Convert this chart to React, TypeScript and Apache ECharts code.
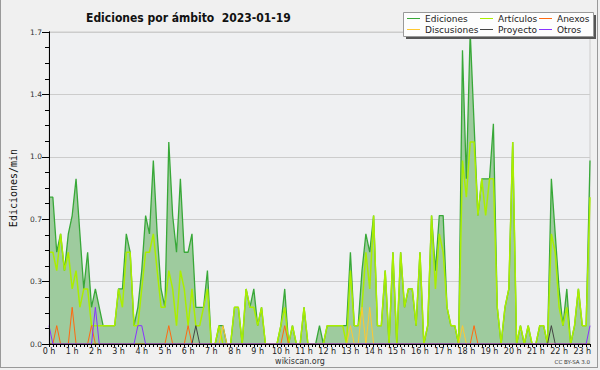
import React, { useEffect, useRef } from 'react';
import * as echarts from 'echarts';

const FONT = 'DejaVu Sans';
const N = 141; // 10-minute slots from 0:00 to 23:20

const hourLabels = [
  '0 h', '1 h', '2 h', '3 h', '4 h', '5 h', '6 h', '7 h', '8 h', '9 h', '10 h', '11 h',
  '12 h', '13 h', '14 h', '15 h', '16 h', '17 h', '18 h', '19 h', '20 h', '21 h', '22 h', '23 h',
];

const ediciones = [
  0.8, 0.8, 0.5, 0.6, 0.4, 0.6, 0.7, 0.9, 0.6, 0.3,
  0.5, 0.2, 0.3, 0.2, 0.1, 0.1, 0.1, 0.1, 0.3, 0.3,
  0.6, 0.5, 0.1, 0.2, 0.4, 0.7, 0.6, 1.0, 0.6, 0.3,
  0.2, 1.1, 0.7, 0.5, 0.9, 0.5, 0.5, 0.6, 0.2, 0.2,
  0.2, 0.4, 0, 0, 0.1, 0.1, 0, 0, 0.2, 0.2,
  0, 0.3, 0.2, 0.3, 0.1, 0.2, 0, 0, 0, 0,
  0.1, 0.3, 0, 0.1, 0, 0, 0.2, 0, 0, 0,
  0.1, 0, 0.1, 0.1, 0.1, 0.1, 0.1, 0.1, 0.5, 0.1,
  0.1, 0.4, 0.6, 0.5, 0.7, 0.1, 0.1, 0.4, 0, 0.5,
  0, 0.5, 0.2, 0.3, 0.3, 0.1, 0.5, 0, 0.1, 0.7,
  0.4, 0.7, 0.7, 0.2, 0.1, 0.1, 0, 1.6, 0.9, 1.7,
  1.2, 0.7, 0.9, 0.9, 0.9, 1.2, 0.2, 0, 0.2, 0.3,
  1.1, 0, 0.1, 0, 0.1, 0, 0, 0.1, 0.1, 0,
  0.9, 0.6, 0.3, 0.1, 0.3, 0, 0.1, 0.3, 0.1, 0.1,
  1.0,
];

const articulos = [
  0.5, 0.5, 0.4, 0.6, 0.4, 0.5, 0.3, 0.4, 0.2, 0.3,
  0.3, 0.1, 0.1, 0.1, 0.1, 0.1, 0.1, 0.1, 0.3, 0.2,
  0.5, 0.5, 0.1, 0.1, 0.3, 0.5, 0.5, 0.6, 0.4, 0.2,
  0.2, 0.4, 0.3, 0.1, 0.4, 0.3, 0.1, 0.3, 0.1, 0.1,
  0.2, 0.3, 0, 0, 0.1, 0, 0, 0, 0.2, 0.2,
  0, 0.3, 0.2, 0.2, 0.1, 0.2, 0, 0, 0, 0,
  0.1, 0.2, 0, 0.1, 0, 0, 0.2, 0, 0, 0,
  0, 0, 0.1, 0.1, 0.1, 0.1, 0.1, 0, 0.4, 0.1,
  0.1, 0.2, 0.5, 0.3, 0.7, 0.1, 0.1, 0.4, 0, 0.5,
  0, 0.5, 0.2, 0.3, 0.3, 0.1, 0.5, 0, 0.1, 0.7,
  0.3, 0.6, 0.5, 0.2, 0.1, 0.1, 0, 1.0, 0.8, 1.1,
  1.1, 0.7, 0.9, 0.7, 0.9, 0.9, 0.2, 0, 0.2, 0.3,
  1.1, 0, 0.1, 0, 0.1, 0, 0, 0.1, 0.1, 0,
  0.6, 0.5, 0.2, 0.1, 0.2, 0, 0.1, 0.3, 0.1, 0.1,
  0.8,
];

// sparse series: [slot index, value]
const anexos: [number, number][] = [[2, 0.1], [6, 0.2], [11, 0.1], [31, 0.1], [36, 0.1], [61, 0.1], [110, 0.1]];
const discusiones: [number, number][] = [[45, 0.1], [78, 0.1], [81, 0.2], [83, 0.2], [107, 0.1]];
const proyecto: [number, number][] = [[38, 0.1], [130, 0.1]];
const otros: [number, number][] = [[0, 0.1], [12, 0.2], [23, 0.1], [24, 0.1], [140, 0.1]];

const toFull = (pairs: [number, number][]) => {
  const a: number[] = new Array(N).fill(0);
  pairs.forEach(([i, v]) => { a[i] = v; });
  return a;
};

const categories = Array.from({ length: N }, (_, i) =>
  `${Math.floor(i / 6)}:${String((i % 6) * 10).padStart(2, '0')}`);

const C = {
  ediciones: '#38a838',
  area: '#9ecb9e',
  articulos: '#aaee00',
  anexos: '#ff6a10',
  discusiones: '#ffc830',
  proyecto: '#444444',
  otros: '#8833ff',
};

const legendBase = {
  orient: 'vertical',
  top: 13,
  padding: 0,
  itemGap: 0,
  itemWidth: 13,
  itemHeight: 1,
  icon: 'rect',
  z: 6,
  textStyle: { fontFamily: FONT, fontSize: 9, color: '#222', lineHeight: 11 },
};

function buildOption() {
  const line = (name: string, data: number[], color: string, width = 1) => ({
    name, type: 'line', data, symbol: 'none', z: 2,
    color, lineStyle: { color, width }, itemStyle: { color },
  });
  return {
    animation: false,
    backgroundColor: '#f0f0f0',
    title: {
      text: 'Ediciones por ámbito  2023-01-19',
      left: 81, top: 7,
      textStyle: { fontFamily: "'DejaVu Sans Condensed', 'DejaVu Sans'", fontSize: 12, fontWeight: 'bold', color: '#111' },
    },
    legend: [
      { ...legendBase, left: 407, data: ['Ediciones', 'Discusiones'] },
      { ...legendBase, left: 480, data: ['Artículos', 'Proyecto'] },
      { ...legendBase, left: 539, data: ['Anexos', 'Otros'] },
    ],
    grid: {
      left: 46, right: 10, top: 32, bottom: 26,
      show: true, backgroundColor: '#eff0f2', borderColor: '#cccccc', borderWidth: 1,
    },
    xAxis: {
      type: 'category', data: categories, boundaryGap: false, z: 3,
      axisLine: { lineStyle: { color: '#000' } },
      axisTick: { interval: 0, length: 3, lineStyle: { color: '#000' } },
      axisLabel: {
        interval: (i: number) => i % 6 === 0,
        formatter: (_v: string, i: number) => hourLabels[i / 6] ?? '',
        fontFamily: FONT, fontSize: 8, color: '#222', margin: 3,
      },
    },
    yAxis: [
      {
        type: 'value', min: 0, max: 1.7, interval: 0.34,
        name: 'Ediciones/min', nameLocation: 'middle', nameGap: 31,
        nameTextStyle: { fontFamily: 'DejaVu Sans Mono', fontSize: 10, color: '#111' },
        axisLine: { show: true, lineStyle: { color: '#000' } },
        axisTick: { show: true, length: 7, lineStyle: { color: '#000' } },
        minorTick: { show: true, splitNumber: 4, length: 4, lineStyle: { color: '#000' } },
        splitLine: { show: true, lineStyle: { color: '#cccccc' } },
        axisLabel: {
          formatter: (v: number) => v.toFixed(1),
          fontFamily: FONT, fontSize: 7.5, color: '#333', margin: 7,
        },
      },
      {
        type: 'value', min: 0, max: 1.7, interval: 0.34, position: 'left', z: 3,
        axisLine: { show: true, onZero: false, lineStyle: { color: '#000' } },
        axisTick: { show: false }, axisLabel: { show: false }, splitLine: { show: false },
      },
    ],
    series: [
      {
        ...line('Ediciones', ediciones, C.ediciones, 1.3),
        areaStyle: { color: C.area, opacity: 1 },
      },
      line('Artículos', articulos, C.articulos, 1.5),
      line('Anexos', toFull(anexos), C.anexos),
      line('Discusiones', toFull(discusiones), C.discusiones),
      line('Proyecto', toFull(proyecto), C.proyecto),
      line('Otros', toFull(otros), C.otros),
    ],
    graphic: {
      elements: [
        { type: 'rect', z: 3, shape: { x: 406, y: 15, width: 190, height: 24 }, style: { fill: '#555' } },
        { type: 'rect', z: 3, shape: { x: 403.5, y: 12.5, width: 190, height: 24 }, style: { fill: '#fdfdfd', stroke: '#999', lineWidth: 1 } },
        { type: 'text', z: 5, x: 300, y: 361, style: { text: 'wikiscan.org', fontFamily: FONT, fontSize: 8, fill: '#333', align: 'center', verticalAlign: 'middle' } },
        { type: 'text', z: 5, x: 590, y: 362, style: { text: 'CC BY-SA 3.0', fontFamily: FONT, fontSize: 5.5, fill: '#333', align: 'right', verticalAlign: 'middle' } },
        { type: 'line', z: 5, shape: { x1: 0.5, y1: 0, x2: 0.5, y2: 368 }, style: { stroke: '#999', lineWidth: 1 } },
        { type: 'line', z: 5, shape: { x1: 0, y1: 367.5, x2: 598, y2: 367.5 }, style: { stroke: '#999', lineWidth: 1 } },
        { type: 'line', z: 5, shape: { x1: 597.5, y1: 0, x2: 597.5, y2: 368 }, style: { stroke: '#999', lineWidth: 1 } },
      ],
    },
  };
}

export default function App() {
  const ref = useRef<HTMLDivElement>(null);
  useEffect(() => {
    document.body.style.margin = '0';
    const chart = echarts.init(ref.current as HTMLDivElement, null, { renderer: 'svg' });
    chart.setOption(buildOption() as any);
    return () => chart.dispose();
  }, []);
  return <div ref={ref} style={{ position: 'absolute', left: 0, top: 0, width: 600, height: 370 }} />;
}
